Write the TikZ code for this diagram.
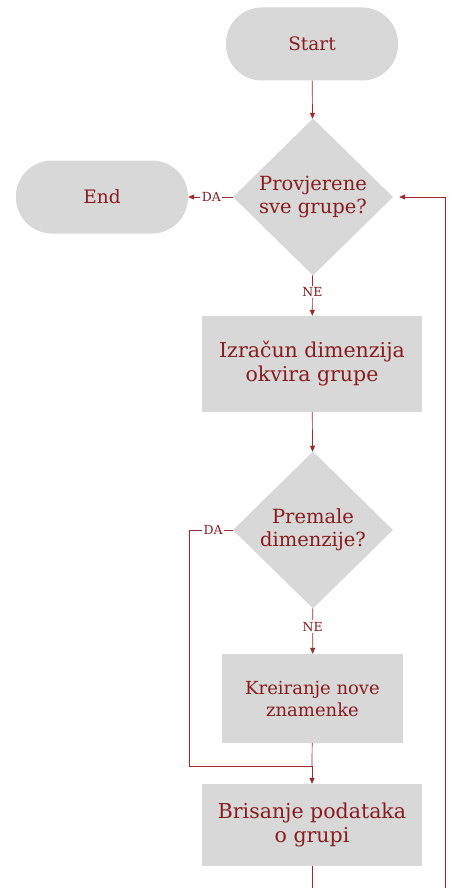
\documentclass[tikz,border=0pt]{standalone}
\usepackage{fontspec}
\setmainfont{DejaVu Serif}
\usetikzlibrary{shapes.geometric,arrows.meta}
\definecolor{boxgray}{HTML}{D8D8D8}
\definecolor{txtred}{HTML}{8A1C1F}
\definecolor{linered}{HTML}{A2282C}
\begin{document}
\begin{tikzpicture}[x=1pt,y=-1pt,
  every node/.style={text=txtred},
  term/.style={fill=boxgray,rounded corners=36pt,minimum width=172pt,minimum height=73pt,font=\fontsize{18.5}{22}\selectfont},
  decide/.style={diamond,fill=boxgray,inner sep=0pt,minimum width=160pt,minimum height=157pt,align=center,font=\fontsize{19.5}{23}\selectfont},
  proc/.style={fill=boxgray,align=center,inner sep=0pt,font=\fontsize{20.5}{24}\selectfont},
  lbl/.style={fill=white,inner sep=1.5pt,font=\fontsize{12.5}{14}\selectfont},
  conn/.style={draw=linered,line width=0.7pt},
  arr/.style={conn,-{Triangle[length=6pt,width=5pt]}}]
\useasboundingbox (0,0) rectangle (450,888);
\clip (0,0) rectangle (450,888);
\fill[white] (0,0) rectangle (450,888);
\node[term] (start) at (312,44) {Start};
\node[decide] (d1) at (313,197) {Provjerene\\sve grupe?};
\node[term] (end) at (102,197) {End};
\node[proc,minimum width=220pt,minimum height=96pt] (r2) at (312,364) {Izračun dimenzija\\okvira grupe};
\node[decide] (d2) at (313,530) {Premale\\dimenzije?};
\node[proc,minimum width=181pt,minimum height=89pt,font=\fontsize{18}{22}\selectfont] (r3) at (312.5,698.5) {Kreiranje nove\\znamenke};
\node[proc,minimum width=220pt,minimum height=82pt] (r4) at (312,825) {Brisanje podataka\\o grupi};
\coordinate (joinpt) at (312,766);
\coordinate (dleft) at (189,530);
\coordinate (bl) at (312,900);
\coordinate (br) at (445,900);
\coordinate (tr) at (445,197);
\draw[arr] (start) -- (d1);
\draw[arr] (d1) -- node[lbl,pos=0.48]{DA} (end);
\draw[arr] (d1) -- node[lbl,pos=0.42]{NE} (r2);
\draw[arr] (r2) -- (d2);
\draw[arr] (d2) -- node[lbl,pos=0.4]{NE} (r3);
\draw[conn] (d2.west) -- node[lbl,pos=0.45]{DA} (dleft) |- (joinpt);
\draw[conn] (r3) -- (joinpt);
\draw[arr] (joinpt) -- (r4);
\draw[arr,shorten >=6pt] (r4) -- (bl) -- (br) -- (tr) -- (d1.east);
\end{tikzpicture}
\end{document}
